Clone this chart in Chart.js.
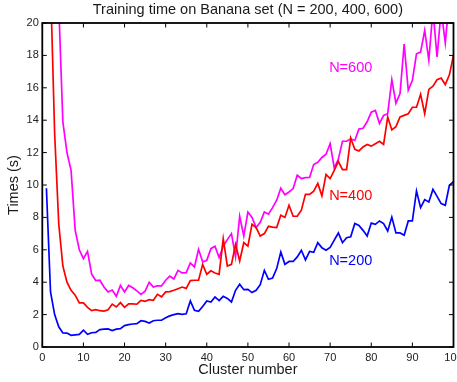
<!DOCTYPE html>
<html>
<head>
<meta charset="utf-8">
<script src="https://cdn.jsdelivr.net/npm/chart.js@4"></script>
<style>
  body { margin: 0; background: #fff; overflow: hidden; }
  canvas { display: block; }
</style>
</head>
<body>
<canvas id="timechart" width="457" height="382"></canvas>
<script>
// cluster numbers on the x axis
const clusters = [1,2,3,4,5,6,7,8,9,10,11,12,13,14,15,16,17,18,19,20,
  21,22,23,24,25,26,27,28,29,30,31,32,33,34,35,36,37,38,39,40,
  41,42,43,44,45,46,47,48,49,50,51,52,53,54,55,56,57,58,59,60,
  61,62,63,64,65,66,67,68,69,70,71,72,73,74,75,76,77,78,79,80,
  81,82,83,84,85,86,87,88,89,90,91,92,93,94,95,96,97,98,99,100]

// training times (s)
const timesN200 = [9.8,3.4,2.0,1.25,0.87,0.86,0.72,0.75,0.78,1.04,
  0.78,0.88,0.9,1.07,1.1,1.12,1.02,1.1,1.13,1.32,
  1.38,1.42,1.44,1.62,1.58,1.48,1.62,1.65,1.65,1.8,
  1.92,2.0,2.06,2.02,2.05,2.84,2.27,2.2,2.5,2.84,
  2.78,3.09,2.86,3.13,3.0,2.78,3.5,3.87,3.54,3.56,
  3.36,3.5,3.85,4.73,4.18,4.25,4.84,5.86,5.1,5.28,
  5.28,5.56,5.97,5.38,5.9,5.85,6.44,6.12,5.97,6.15,
  6.6,7.04,6.44,6.75,6.8,7.62,7.5,7.2,6.85,7.65,
  7.57,7.78,7.62,7.16,8.02,7.04,7.04,6.9,7.78,7.78,
  9.63,8.6,9.1,8.95,9.73,9.3,8.85,8.75,9.98,10.2]

const timesN400 = [45,22.5,13.2,7.6,5.0,4.0,3.5,3.2,2.72,2.72,
  2.45,2.25,2.3,2.24,2.22,2.3,2.65,2.47,2.74,2.45,
  2.66,2.66,2.64,2.88,2.82,2.92,2.88,3.25,3.1,3.4,
  3.42,3.5,3.6,3.7,3.62,4.1,4.12,4.12,5.1,4.49,
  4.7,4.57,4.49,6.69,5.0,5.1,6.34,5.31,6.44,6.22,
  7.57,7.37,6.85,7.0,7.45,7.4,7.37,8.13,8.0,8.75,
  8.07,8.07,8.45,9.42,9.42,9.62,10.1,9.33,10.65,10.4,
  10.9,11.45,10.95,10.95,12.9,12.2,12.1,12.35,12.5,12.4,
  12.55,12.7,12.5,14.2,13.4,13.6,14.2,14.3,14.4,14.8,
  14.8,15.6,14.4,15.9,16.1,16.5,16.6,16.2,16.8,18.0]

const timesN600 = [60,45,30,21.1,13.9,12.0,10.9,7.2,6.0,5.45,
  5.9,4.5,4.1,4.12,3.7,3.4,3.52,3.13,3.8,3.4,
  3.8,3.66,3.46,3.25,3.45,4.0,3.7,3.77,3.77,4.12,
  4.37,4.2,4.73,4.57,4.59,5.19,4.94,6.03,5.25,5.35,
  6.07,6.22,5.52,6.22,6.63,7.0,5.56,8.07,6.85,8.33,
  8.0,7.37,7.7,8.33,8.2,8.6,9.06,9.8,9.4,9.57,
  9.78,10.6,10.4,10.45,10.46,11.26,11.4,11.7,11.9,12.55,
  11.05,11.6,12.7,12.7,12.85,12.75,13.45,13.5,13.9,14.5,
  14.6,13.8,14.3,14.4,16.5,15.05,15.64,18.7,15.85,16.46,
  18.1,18.2,19.55,17.7,20.8,17.9,20.8,18.77,21.5,22]

const xTicks = [0,10,20,30,40,50,60,70,80,90,100]
const yTicks = [0,2,4,6,8,10,12,14,16,18,20]

const chartTitle = "Training time on Banana set (N = 200, 400, 600)"

// series labels and where they sit (data coords)
const seriesNames = ["N=200", "N=400", "N=600"]
const seriesColors = ["#0000ff", "#ff0000", "#ff00ff"]
const labelSpots = [[75, 5.3], [75, 9.3], [75, 17.2]]

const fontFamily = "'Liberation Sans', Arial, Helvetica, sans-serif"

function toPoints(values){
	return values.map(function(v, i){ return {x: clusters[i], y: v} })
}

// matlab style box with inward ticks, title centred over the axes
const boxAxes = {
	id: "boxAxes",
	afterDraw(chart){
		const ctx = chart.ctx
		const a = chart.chartArea
		const xs = chart.scales.x
		const ys = chart.scales.y
		const tl = 4.5
		ctx.save()
		ctx.strokeStyle = "#000"
		ctx.lineWidth = 1
		ctx.beginPath()
		xTicks.forEach(function(t){
			const px = xs.getPixelForValue(t)
			ctx.moveTo(px, a.bottom); ctx.lineTo(px, a.bottom - tl)
			ctx.moveTo(px, a.top); ctx.lineTo(px, a.top + tl)
		})
		yTicks.forEach(function(t){
			const py = ys.getPixelForValue(t)
			ctx.moveTo(a.left, py); ctx.lineTo(a.left + tl, py)
			ctx.moveTo(a.right, py); ctx.lineTo(a.right - tl, py)
		})
		ctx.stroke()
		ctx.lineWidth = 1.8
		ctx.strokeRect(a.left, a.top, a.right - a.left, a.bottom - a.top)

		ctx.fillStyle = "#1a1a1a"
		ctx.font = "14.5px " + fontFamily
		ctx.textAlign = "center"
		ctx.textBaseline = "middle"
		ctx.fillText(chartTitle, (a.left + a.right) / 2, 10)
		ctx.restore()
	}
}

// N=... labels next to the curves
const seriesLabels = {
	id: "seriesLabels",
	afterDatasetsDraw(chart){
		const ctx = chart.ctx
		ctx.save()
		ctx.font = "14.5px " + fontFamily
		ctx.textAlign = "center"
		ctx.textBaseline = "middle"
		seriesNames.forEach(function(name, i){
			ctx.fillStyle = seriesColors[i]
			ctx.fillText(name,
				chart.scales.x.getPixelForValue(labelSpots[i][0]),
				chart.scales.y.getPixelForValue(labelSpots[i][1]))
		})
		ctx.restore()
	}
}

function drawtimechart(){
	const canvas = document.getElementById("timechart")
	const series = [timesN200, timesN400, timesN600]
	new Chart(canvas, {
		type: "line",
		data: {
			datasets: series.map(function(vals, i){
				return {
					label: seriesNames[i],
					data: toPoints(vals),
					borderColor: seriesColors[i],
					borderWidth: 1.7,
					pointRadius: 0,
					tension: 0,
					fill: false
				}
			})
		},
		options: {
			responsive: false,
			animation: false,
			layout: { padding: { top: 23, right: 3.5, bottom: 0, left: 0 } },
			plugins: {
				legend: { display: false },
				tooltip: { enabled: false },
				title: { display: false }
			},
			scales: {
				x: {
					type: "linear",
					min: 0,
					max: 100,
					afterBuildTicks: function(scale){ scale.ticks = xTicks.map(function(v){ return {value: v} }) },
					afterFit: function(scale){ scale.height = 35; scale.paddingRight = 0 },
					grid: { display: false, drawTicks: false },
					border: { display: false },
					ticks: {
						color: "#222",
						padding: 4,
						maxRotation: 0,
						font: { family: fontFamily, size: 11 }
					},
					title: {
						display: true,
						text: "Cluster number",
						color: "#1a1a1a",
						font: { family: fontFamily, size: 14.5 },
						padding: { top: 0, bottom: 3.3 }
					}
				},
				y: {
					min: 0,
					max: 20,
					afterBuildTicks: function(scale){ scale.ticks = yTicks.map(function(v){ return {value: v} }) },
					afterFit: function(scale){ scale.width = 42.3; scale.paddingTop = 0 },
					grid: { display: false, drawTicks: false },
					border: { display: false },
					ticks: {
						color: "#222",
						padding: 3.5,
						font: { family: fontFamily, size: 11 }
					},
					title: {
						display: true,
						text: "Times (s)",
						color: "#1a1a1a",
						font: { family: fontFamily, size: 14.5 },
						padding: { top: 5.3, bottom: 0 }
					}
				}
			}
		},
		plugins: [boxAxes, seriesLabels]
	})
}

drawtimechart()
</script>
</body>
</html>
